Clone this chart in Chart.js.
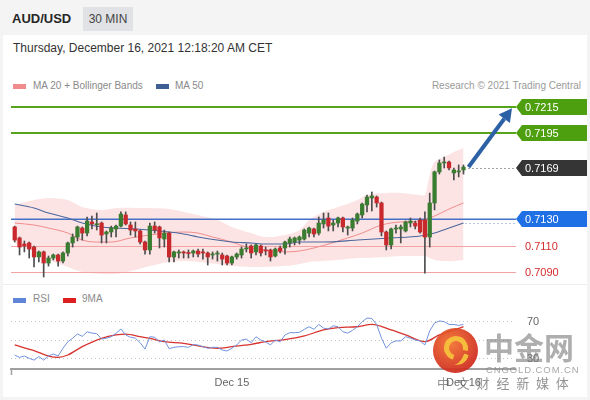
<!DOCTYPE html>
<html>
<head>
<meta charset="utf-8">
<script src="https://cdn.jsdelivr.net/npm/chart.js@4.4.1/dist/chart.umd.min.js"></script>
<style>
html,body{margin:0;padding:0;}
body{width:590px;height:400px;overflow:hidden;position:relative;background:#f4f4f4;font-family:"Liberation Sans",Arial,sans-serif;}
.a{position:absolute;white-space:nowrap;line-height:1;}
#panel{position:absolute;left:3px;top:35px;width:584px;height:362px;background:#fff;}
#sep{position:absolute;left:3px;top:284px;width:584px;height:1px;background:#ededed;}
#pair{left:12px;top:11.6px;font-size:13px;font-weight:bold;color:#262626;}
#tf{left:83px;top:7px;width:50px;height:24px;line-height:24px;text-align:center;background:#e0e2e5;font-size:12px;color:#444;}
#date{left:13px;top:41.7px;font-size:12px;color:#333;}
.leg{font-size:10px;color:#8a8a8a;}
.sw{position:absolute;width:13px;height:5px;}
canvas{position:absolute;left:0;}
#wm{position:absolute;left:0;top:0;width:590px;height:400px;pointer-events:none;}
.cjk{font-family:"Noto Sans CJK SC",sans-serif;}
</style>
</head>
<body>
<div id="panel"></div>
<div id="sep"></div>
<div class="a" id="pair">AUD/USD</div>
<div class="a" id="tf">30 MIN</div>
<div class="a" id="date">Thursday, December 16, 2021 12:18:20 AM CET</div>

<div class="sw" style="left:13px;top:84px;background:#f08c8c;"></div>
<div class="a leg" style="left:33px;top:80.7px;">MA 20 + Bollinger Bands</div>
<div class="sw" style="left:156px;top:84px;background:#3d5f93;"></div>
<div class="a leg" style="left:175px;top:80.7px;">MA 50</div>
<div class="a leg" style="right:9px;top:80.7px;color:#9a9a9a;">Research © 2021 Trading Central</div>

<div class="sw" style="left:13px;top:297.5px;background:#5f84d8;"></div>
<div class="a leg" style="left:33px;top:293.7px;">RSI</div>
<div class="sw" style="left:63px;top:297.5px;background:#dd1f1f;"></div>
<div class="a leg" style="left:82px;top:293.7px;">9MA</div>

<canvas id="price" width="590" height="190" style="top:95px;width:590px;height:190px;"></canvas>
<canvas id="rsi" width="590" height="90" style="top:305px;width:590px;height:90px;"></canvas>

<div id="wm">
  <div style="position:absolute;left:433px;top:328px;width:45px;height:45px;border-radius:50%;background:radial-gradient(circle at 40% 35%,#f3702c,#cf2a1c 72%);opacity:.92;"></div>
  <div style="position:absolute;left:444px;top:336px;width:14px;height:14px;border:5px solid #f6c13c;border-radius:50%;border-bottom-color:transparent;transform:rotate(-30deg);opacity:.95;"></div>
  <div style="position:absolute;left:452px;top:352px;width:10px;height:14px;border-right:5px solid #f6c13c;border-radius:0 0 12px 0;transform:rotate(20deg);opacity:.95;"></div>
  <div class="a cjk" style="left:484px;top:331px;font-size:30px;font-weight:bold;color:rgba(120,120,120,0.6);">中金网</div>
  <div class="a" style="left:486px;top:365px;font-size:9.5px;color:rgba(130,130,130,0.7);letter-spacing:0.9px;">CNGOLD.COM.CN</div>
  <div class="a cjk" style="left:437px;top:376px;font-size:13px;color:rgba(100,100,100,0.7);letter-spacing:6.8px;">中文财经新媒体</div>
</div>

<script>
// ---------------- DATA ----------------
const opens = [0.71241,0.71158,0.71112,0.71120,0.71089,0.71014,0.71052,0.70968,0.71006,0.71029,
0.70983,0.71044,0.71120,0.71165,0.71233,0.71195,0.71279,0.71258,0.71271,0.71188,
0.71203,0.71226,0.71248,0.71332,0.71256,0.71226,0.71211,0.71127,0.71067,0.71248,
0.71241,0.71150,0.71195,0.71014,0.71044,0.71052,0.71044,0.71044,0.71059,0.71052,
0.71044,0.71029,0.71036,0.71029,0.71021,0.70968,0.71014,0.71029,0.71074,0.71097,
0.71052,0.71097,0.71067,0.71067,0.71021,0.71082,0.71082,0.71120,0.71127,0.71142,
0.71150,0.71195,0.71226,0.71195,0.71264,0.71309,0.71256,0.71271,0.71309,0.71233,
0.71233,0.71286,0.71332,0.71408,0.71461,0.71468,0.71423,0.71203,0.71105,0.71226,
0.71226,0.71211,0.71271,0.71271,0.71294,0.71294,0.71165,0.71423,0.71658,0.71726,
0.71733,0.71650,0.71658,0.71673];
const highs = [0.71248,0.71165,0.71135,0.71127,0.71097,0.71059,0.71059,0.71021,0.71036,0.71036,
0.71052,0.71127,0.71188,0.71248,0.71241,0.71317,0.71324,0.71347,0.71279,0.71211,
0.71248,0.71256,0.71355,0.71355,0.71279,0.71279,0.71218,0.71135,0.71271,0.71279,
0.71248,0.71218,0.71203,0.71059,0.71067,0.71059,0.71067,0.71067,0.71074,0.71074,
0.71052,0.71052,0.71059,0.71044,0.71029,0.71021,0.71044,0.71089,0.71112,0.71105,
0.71112,0.71105,0.71089,0.71074,0.71082,0.71097,0.71135,0.71165,0.71165,0.71173,
0.71226,0.71241,0.71233,0.71317,0.71347,0.71347,0.71294,0.71317,0.71317,0.71248,
0.71309,0.71347,0.71423,0.71483,0.71506,0.71476,0.71430,0.71211,0.71233,0.71256,
0.71256,0.71286,0.71309,0.71286,0.71309,0.71355,0.71498,0.71665,0.71749,0.71771,
0.71741,0.71688,0.71711,0.71711];
const lows = [0.71127,0.71029,0.71052,0.71006,0.70938,0.70976,0.70862,0.70945,0.70991,0.70945,
0.70968,0.71021,0.71089,0.71135,0.71142,0.71173,0.71226,0.71218,0.71120,0.71120,
0.71165,0.71165,0.71241,0.71256,0.71180,0.71165,0.71112,0.71036,0.71036,0.71195,
0.71082,0.71089,0.70976,0.70976,0.71006,0.71006,0.71006,0.71014,0.71014,0.70998,
0.70953,0.70998,0.70983,0.70953,0.70953,0.70953,0.70998,0.71006,0.71052,0.71006,
0.71029,0.71021,0.71029,0.70983,0.71014,0.71044,0.71036,0.71089,0.71105,0.71112,
0.71142,0.71165,0.71165,0.71180,0.71233,0.71211,0.71211,0.71241,0.71203,0.71180,
0.71211,0.71264,0.71309,0.71355,0.71362,0.71392,0.71173,0.71067,0.71074,0.71195,
0.71120,0.71203,0.71241,0.71226,0.71195,0.70892,0.71089,0.71370,0.71642,0.71688,
0.71673,0.71597,0.71620,0.71642];
const closes = [0.71142,0.71089,0.71097,0.71074,0.71014,0.71052,0.70968,0.71006,0.71029,0.70983,
0.71044,0.71120,0.71165,0.71241,0.71195,0.71286,0.71264,0.71262,0.71180,0.71203,
0.71233,0.71248,0.71339,0.71264,0.71218,0.71211,0.71127,0.71067,0.71248,0.71218,
0.71158,0.71195,0.71014,0.71052,0.71052,0.71044,0.71040,0.71059,0.71036,0.71044,
0.71014,0.71036,0.71044,0.70998,0.70968,0.71014,0.71036,0.71074,0.71082,0.71044,
0.71105,0.71044,0.71059,0.71014,0.71074,0.71059,0.71127,0.71150,0.71158,0.71165,
0.71218,0.71233,0.71188,0.71271,0.71294,0.71248,0.71271,0.71309,0.71241,0.71241,
0.71294,0.71339,0.71415,0.71468,0.71476,0.71423,0.71203,0.71105,0.71226,0.71233,
0.71241,0.71279,0.71286,0.71248,0.71203,0.71165,0.71423,0.71658,0.71726,0.71733,
0.71688,0.71673,0.71665,0.71695];

const ma20Idx = [0,4,7,11,14,17,20,24,28,31,35,38,41,45,48,52,56,59,62,65,69,72,76,80,84,87,90,93];
const ma20 = [0.71271,0.71256,0.71233,0.71195,0.71142,0.71127,0.71127,0.71158,0.71180,0.71195,0.71203,0.71195,0.71165,0.71127,0.71089,0.71067,0.71052,0.71059,0.71082,0.71112,0.71158,0.71195,0.71256,0.71279,0.71286,0.71324,0.71377,0.71423];

const ma50Idx = [0,4,7,11,14,18,21,25,28,32,35,38,42,45,49,52,56,59,64,71,78,84,87,90,93];
const ma50 = [0.71415,0.71385,0.71347,0.71309,0.71271,0.71241,0.71233,0.71226,0.71218,0.71203,0.71188,0.71165,0.71142,0.71127,0.71120,0.71112,0.71112,0.71127,0.71127,0.71142,0.71158,0.71173,0.71195,0.71233,0.71271];

const bandIdx = [0,4,7,11,14,18,21,25,28,32,35,38,42,45,49,52,56,59,61,64,67,71,73,77,80,84,85,86,87,89,91,93];
const bandUpper = [0.71408,0.71445,0.71461,0.71445,0.71392,0.71370,0.71385,0.71385,0.71385,0.71377,0.71355,0.71332,0.71294,0.71241,0.71195,0.71165,0.71180,0.71218,0.71294,0.71355,0.71392,0.71445,0.71483,0.71498,0.71498,0.71483,0.71483,0.71635,0.71733,0.71771,0.71809,0.71839];
const bandLower = [0.71120,0.71052,0.70991,0.70938,0.70900,0.70885,0.70885,0.70915,0.70945,0.70976,0.70983,0.70976,0.70961,0.70945,0.70938,0.70938,0.70945,0.70961,0.70976,0.70983,0.70991,0.71006,0.71006,0.71014,0.71021,0.71021,0.71021,0.71006,0.70991,0.70983,0.70983,0.70991];

const levelValues = [0.7215, 0.7195, 0.7169, 0.7130, 0.7110, 0.7090];
const levelKinds  = ['resistance','resistance','last','pivot','support','support'];
const arrowTarget = 0.7214;

const rsi = [33.6,31,32.5,30,28,32,28,32.5,34.7,32.5,
41,48,52,56.6,54,59,57.5,57,51,52,
53.6,57.3,62,55.5,53,52,47,40,53.6,53,
48,50,40.5,42,42.7,42.7,42,45,44.5,42.7,
41,42,42,39,38,41,44.6,50,51,47,
53.6,50,48,44.6,50,48,55.5,58,58,58.4,
61.6,64.5,61.6,67,63,62,65.5,64.5,59,57.5,
60.5,64.5,70,74,73.5,67,52,41,47,49,
49,53.6,52,50,49,44.6,60,68.5,70.8,70,
67,67,66,67];
const rsiMaIdx = [0,4,7,9,11,14,18,21,23,26,28,31,35,38,42,45,49,52,56,60,64,67,71,74,78,81,85,88,91,93];
const rsiMa = [44.6,38.3,32.5,31,33.6,42.7,51.8,55.5,56.4,53.6,51.8,48.2,46.4,43.5,41,42.7,45.3,48.2,50.5,54.5,61,63.5,64.5,67,61,55.5,48.2,55.5,61,64.5];
const rsiGrid = [30, 50, 70];
const rsiLabelled = [30, 70];

const xTickIdx = [45, 93];
const xTickLabels = ['Dec 15', 'Dec 16'];

// ---------------- STYLE ----------------
const FONT = '"Liberation Sans", Arial, sans-serif';
const UP = '#3a7d30', DOWN = '#c9282d', WICK = '#4d4d4d';
const X_MIN = -0.77, X_MAX = 103.67;

const idx = opens.map((_, i) => i);
const pts = (xs, ys) => xs.map((x, k) => ({x, y: ys[k]}));
const candleColor = i => closes[i] >= opens[i] ? UP : DOWN;

const priceOverlay = {
  id: 'priceOverlay',
  afterDatasetDraw(chart, args) {
    if (args.index !== 1) return;
    const {ctx, chartArea: ca, scales: {y}} = chart;
    ctx.save();
    levelValues.forEach((v, k) => {
      const kind = levelKinds[k];
      const py = y.getPixelForValue(v);
      if (kind === 'last') return;
      ctx.beginPath();
      if (kind === 'resistance') { ctx.strokeStyle = '#57a31a'; ctx.lineWidth = 2; ctx.moveTo(ca.left, Math.round(py)); ctx.lineTo(ca.right + 1, Math.round(py)); }
      else if (kind === 'pivot') { ctx.strokeStyle = '#4470c8'; ctx.lineWidth = 1.5; ctx.moveTo(ca.left, py); ctx.lineTo(ca.right + 1, py); }
      else { ctx.strokeStyle = '#f2a3a3'; ctx.lineWidth = 1.2; ctx.moveTo(ca.left, Math.round(py) + 0.5); ctx.lineTo(ca.right + 1, Math.round(py) + 0.5); }
      ctx.stroke();
    });
    ctx.restore();
  },
  afterDatasetsDraw(chart) {
    const {ctx, chartArea: ca, scales: {x, y}} = chart;
    const last = idx.length - 1;
    const x0 = x.getPixelForValue(last) + 5;
    ctx.save();
    const yl = Math.round(y.getPixelForValue(levelValues[2])) + 0.5;
    ctx.setLineDash([1, 3]); ctx.strokeStyle = '#444'; ctx.lineWidth = 1;
    ctx.beginPath(); ctx.moveTo(x0, yl); ctx.lineTo(ca.right, yl); ctx.stroke();
    const ym = Math.round(y.getPixelForValue(ma50[ma50.length - 1])) + 0.5;
    ctx.strokeStyle = '#6d8bd0';
    ctx.beginPath(); ctx.moveTo(x.getPixelForValue(ma50Idx[ma50Idx.length - 1]) + 2, ym); ctx.lineTo(ca.right, ym); ctx.stroke();
    ctx.setLineDash([]);
    const y0 = y.getPixelForValue(closes[last]);
    const x1 = ca.right - 3, y1 = y.getPixelForValue(arrowTarget);
    const ang = Math.atan2(y1 - y0, x1 - x0);
    const hl = 13, hw = 7;
    const bx = x1 - hl * Math.cos(ang), by = y1 - hl * Math.sin(ang);
    ctx.strokeStyle = '#2d61a5'; ctx.fillStyle = '#2d61a5'; ctx.lineWidth = 4;
    ctx.beginPath(); ctx.moveTo(x0, y0); ctx.lineTo(bx, by); ctx.stroke();
    ctx.beginPath(); ctx.moveTo(x1, y1);
    ctx.lineTo(bx + hw * Math.sin(ang), by - hw * Math.cos(ang));
    ctx.lineTo(bx - hw * Math.sin(ang), by + hw * Math.cos(ang));
    ctx.closePath(); ctx.fill();
    ctx.restore();
  },
  afterDraw(chart) {
    const {ctx, chartArea: ca, scales: {y}} = chart;
    ctx.save();
    ctx.font = '11px ' + FONT; ctx.textBaseline = 'middle';
    levelValues.forEach((v, k) => {
      const kind = levelKinds[k];
      const yc = Math.round(y.getPixelForValue(v));
      const text = v.toFixed(4);
      if (kind === 'support') { ctx.fillStyle = '#d52b2b'; ctx.fillText(text, ca.right + 10, yc + 0.5); return; }
      const color = kind === 'resistance' ? '#4e9f10' : kind === 'last' ? '#353535' : '#1f6fe5';
      const tip = ca.right + 1, l = ca.right + 7, r = 587, h = 16;
      ctx.beginPath(); ctx.moveTo(tip, yc); ctx.lineTo(l, yc - h / 2); ctx.lineTo(r, yc - h / 2);
      ctx.lineTo(r, yc + h / 2); ctx.lineTo(l, yc + h / 2); ctx.closePath();
      ctx.fillStyle = color; ctx.fill();
      ctx.fillStyle = '#fff'; ctx.fillText(text, ca.right + 10, yc + 0.5);
    });
    ctx.restore();
  }
};

new Chart(document.getElementById('price'), {
  type: 'bar',
  data: {
    datasets: [
      {type: 'line', data: pts(bandIdx, bandUpper), borderWidth: 0, pointRadius: 0, fill: false, tension: 0.35, order: 10},
      {type: 'line', data: pts(bandIdx, bandLower), borderWidth: 0, pointRadius: 0, fill: '-1', backgroundColor: 'rgba(248,190,190,0.42)', tension: 0.35, order: 9},
      {type: 'line', data: pts(ma20Idx, ma20), borderColor: '#f08c8c', borderWidth: 1, pointRadius: 0, fill: false, cubicInterpolationMode: 'monotone', order: 5},
      {type: 'line', data: pts(ma50Idx, ma50), borderColor: '#4a679e', borderWidth: 1.1, pointRadius: 0, fill: false, cubicInterpolationMode: 'monotone', order: 4},
      {type: 'bar', data: idx.map(i => ({x: i, y: [lows[i], highs[i]]})), backgroundColor: WICK, barThickness: 1, grouped: false, order: 2},
      {type: 'bar', data: idx.map(i => ({x: i, y: [opens[i], closes[i]]})), backgroundColor: idx.map(candleColor), barThickness: 3.6, minBarLength: 1, grouped: false, order: 1}
    ]
  },
  options: {
    responsive: false, animation: false, events: [], devicePixelRatio: 1,
    layout: {padding: {left: 11, right: 75, top: 0, bottom: 0}},
    plugins: {legend: {display: false}, tooltip: {enabled: false}},
    scales: {
      x: {type: 'linear', display: false, min: X_MIN, max: X_MAX, offset: false},
      y: {type: 'linear', display: false, min: 0.7215 - 178 / 13200, max: 0.7215 + 12 / 13200, beginAtZero: false}
    }
  },
  plugins: [priceOverlay]
});

const rsiOverlay = {
  id: 'rsiOverlay',
  afterDraw(chart) {
    const {ctx, chartArea: ca, scales: {y}} = chart;
    ctx.save(); ctx.strokeStyle = '#a0a0a0'; ctx.lineWidth = 1.5;
    ctx.beginPath(); ctx.moveTo(ca.left + 0.5, ca.bottom); ctx.lineTo(ca.left + 0.5, ca.bottom + 6); ctx.stroke();
    ctx.font = '11px ' + FONT; ctx.fillStyle = '#666'; ctx.textBaseline = 'middle';
    rsiLabelled.forEach(v => ctx.fillText(String(v), ca.right + 12, y.getPixelForValue(v) + 0.5));
    ctx.restore();
  }
};

new Chart(document.getElementById('rsi'), {
  type: 'line',
  data: {
    datasets: [
      {data: idx.map(i => ({x: i, y: rsi[i]})), borderColor: '#7193de', borderWidth: 1, pointRadius: 0, tension: 0, fill: false},
      {data: pts(rsiMaIdx, rsiMa), borderColor: '#d7332f', borderWidth: 1.3, pointRadius: 0, cubicInterpolationMode: 'monotone', fill: false}
    ]
  },
  options: {
    responsive: false, animation: false, events: [], devicePixelRatio: 1,
    layout: {padding: {left: 11, right: 0, top: 0, bottom: 0}},
    plugins: {legend: {display: false}, tooltip: {enabled: false}},
    scales: {
      x: {
        type: 'linear', min: X_MIN, max: X_MAX, offset: false,
        afterBuildTicks: s => { s.ticks = xTickIdx.map(v => ({value: v})); },
        afterFit: s => { s.height = 26; },
        grid: {display: false, drawTicks: false},
        border: {display: true, color: '#a0a0a0', width: 2},
        ticks: {autoSkip: false, maxRotation: 0, padding: 7, color: '#666', font: {size: 11, family: FONT},
          callback: v => { const k = xTickIdx.indexOf(v); return k >= 0 ? xTickLabels[k] : ''; }}
      },
      y: {
        position: 'right', min: 30 - 10.7 / 0.915, max: 70 + 16.7 / 0.915,
        afterBuildTicks: s => { s.ticks = rsiGrid.map(v => ({value: v})); },
        afterFit: s => { s.width = 75; },
        grid: {color: '#c4c4c4', lineWidth: 1, drawTicks: false},
        border: {display: false, dash: [1, 3]},
        ticks: {display: false}
      }
    }
  },
  plugins: [rsiOverlay]
});
</script>
</body>
</html>
